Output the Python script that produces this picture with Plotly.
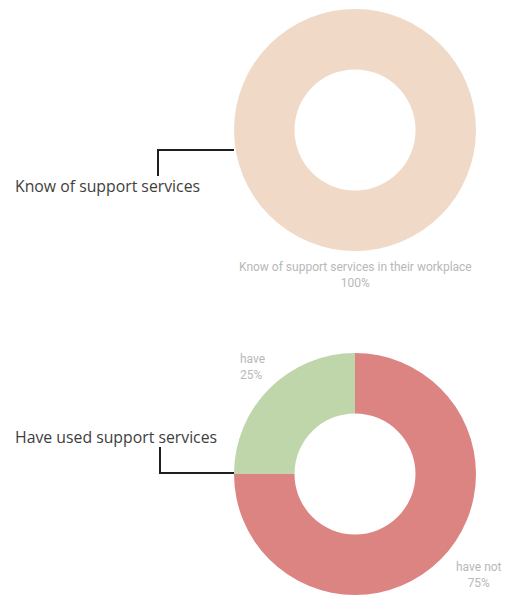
import plotly.graph_objects as go

# Survey results
know_labels = ["Know of support services in their workplace"]
know_values = [100]
know_colors = ["#F0DAC7"]

used_labels = ["have not", "have"]
used_values = [75, 25]
used_colors = ["#DB8482", "#BFD5AA"]

W, H = 505, 596


def px(x):
    return x / W


def py(y):
    return 1 - y / H


fig = go.Figure()

fig.add_trace(go.Pie(
    labels=know_labels, values=know_values, hole=0.5, sort=False,
    direction="clockwise", rotation=0,
    marker=dict(colors=know_colors, line=dict(width=0)),
    textinfo="none", hoverinfo="label+percent", showlegend=False,
    domain=dict(x=[px(234), px(476)], y=[py(251), py(9)]),
))

fig.add_trace(go.Pie(
    labels=used_labels, values=used_values, hole=0.5, sort=False,
    direction="clockwise", rotation=0,
    marker=dict(colors=used_colors, line=dict(width=0)),
    textinfo="none", hoverinfo="label+percent", showlegend=False,
    domain=dict(x=[px(234), px(476)], y=[py(595), py(353)]),
))


def pct(v, vals):
    return f"{round(100 * v / sum(vals))}%"


label_font = dict(family="Roboto, sans-serif", size=12, color="#B8B8B8")
title_font = dict(family="Open Sans, sans-serif", size=15.8, color="#3E3E3E")

annotations = [
    dict(x=px(355), y=py(275), text=f"{know_labels[0]}<br>{pct(know_values[0], know_values)}",
         xanchor="center", yanchor="middle", align="center", font=label_font),
    dict(x=px(238), y=py(367), text=f"{used_labels[1]}<br>{pct(used_values[1], used_values)}",
         xanchor="left", yanchor="middle", align="left", font=label_font),
    dict(x=px(479), y=py(575), text=f"{used_labels[0]}<br>{pct(used_values[0], used_values)}",
         xanchor="center", yanchor="middle", align="center", font=label_font),
    dict(x=px(13), y=py(186), text="Know of support services",
         xanchor="left", yanchor="middle", font=title_font),
    dict(x=px(13), y=py(437), text="Have used support services",
         xanchor="left", yanchor="middle", font=title_font),
]
for a in annotations:
    a.update(xref="paper", yref="paper", showarrow=False)

line = dict(color="#1E1E1E", width=2)
shapes = [
    dict(type="path", path=f"M {px(158)} {py(176)} L {px(158)} {py(150)} L {px(234)} {py(150)}"),
    dict(type="path", path=f"M {px(160)} {py(447)} L {px(160)} {py(473)} L {px(234)} {py(473)}"),
]
for s in shapes:
    s.update(xref="paper", yref="paper", line=line)

fig.update_layout(
    width=W, height=H,
    margin=dict(l=0, r=0, t=0, b=0),
    paper_bgcolor="white", plot_bgcolor="white",
    annotations=annotations, shapes=shapes,
)

fig.write_html("out.html")
